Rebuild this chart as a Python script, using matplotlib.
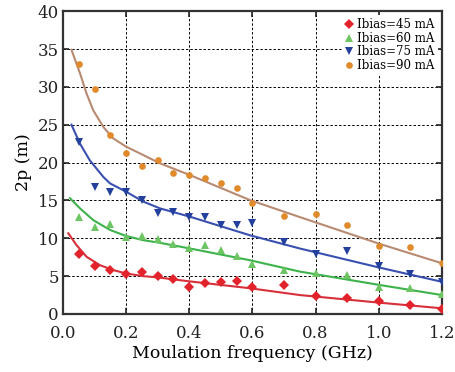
import matplotlib as mpl
mpl.use('Agg')
import matplotlib.pyplot as plt

# measured points, x in GHz, y in m
freq = [0.05, 0.1, 0.15, 0.2, 0.25, 0.3, 0.35, 0.4, 0.45, 0.5, 0.55, 0.6,
        0.7, 0.8, 0.9, 1.0, 1.1, 1.2]
p45 = [7.9, 6.3, 5.8, 5.3, 5.5, 5.05, 4.6, 3.55, 4.1, 4.2, 4.4, 3.55,
       3.8, 2.4, 2.15, 1.75, 1.15, 0.7]
p60 = [12.8, 11.5, 11.9, 10.2, 10.25, 9.85, 9.3, 8.65, 9.05, 8.5, 7.7, 6.55,
       5.85, 5.45, 5.15, 3.6, 3.4, 2.6]
p75 = [22.7, 16.8, 16.1, 16.1, 15.0, 13.3, 13.5, 12.8, 12.85, 11.75, 11.75, 12.0,
       9.55, 7.9, 8.3, 6.4, 5.3, 4.2]
p90 = [33.0, 29.7, 23.6, 21.2, 19.5, 20.3, 18.6, 18.4, 18.0, 17.3, 16.6, 14.6,
       13.0, 13.2, 11.7, 9.0, 8.8, 6.7]

# fitted curves
fit45_x = [0.017, 0.043, 0.075, 0.117, 0.159, 0.2, 0.254, 0.307, 0.402, 0.592, 0.75, 1.0, 1.2]
fit45_y = [10.65, 9.1, 7.55, 6.45, 5.8, 5.35, 5.0, 4.8, 4.3, 3.4, 2.5, 1.5, 0.75]
fit60_x = [0.022, 0.054, 0.096, 0.149, 0.2, 0.254, 0.307, 0.402, 0.592, 0.75, 1.0, 1.2]
fit60_y = [15.3, 13.95, 12.4, 11.1, 10.3, 9.75, 9.4, 8.65, 7.1, 5.6, 3.85, 2.5]
fit75_x = [0.027, 0.054, 0.085, 0.128, 0.149, 0.2, 0.254, 0.307, 0.402, 0.592, 0.75, 1.0, 1.2]
fit75_y = [25.0, 22.5, 20.3, 18.1, 17.25, 16.15, 14.85, 13.95, 12.85, 10.4, 8.65, 6.15, 4.25]
fit90_x = [0.027, 0.054, 0.075, 0.096, 0.128, 0.159, 0.2, 0.254, 0.307, 0.402, 0.592, 0.75, 1.0, 1.2]
fit90_y = [34.9, 31.8, 29.1, 26.9, 24.7, 23.2, 22.1, 21.0, 19.9, 18.35, 15.05, 12.8, 9.3, 6.7]

labels = ["Ibias=45 mA", "Ibias=60 mA", "Ibias=75 mA", "Ibias=90 mA"]

SERIES = [
    (p45, fit45_x, fit45_y, 'D', '#e3232c', '#d8303a', 4.6),
    (p60, fit60_x, fit60_y, '^', '#6cc463', '#3db34c', 6.2),
    (p75, fit75_x, fit75_y, 'v', '#22409c', '#3a50b0', 6.2),
    (p90, fit90_x, fit90_y, 'o', '#e08a2c', '#b88a72', 4.8),
]

plt.rcParams['font.family'] = ['DejaVu Serif']

fig = plt.figure(figsize=(4.56, 3.72), dpi=100)
ax = fig.add_axes([0.138, 0.156, 0.831, 0.814])

for (vals, fx, fy, mk, mc, lc, ms), lab in zip(SERIES, labels):
    ax.plot(fx, fy, color=lc, linewidth=1.5, zorder=3)
    ax.plot(freq, vals, marker=mk, color=mc, markersize=ms, markeredgewidth=0,
            linestyle='None', label=lab, zorder=4)

ax.set_xlim(0, 1.2)
ax.set_ylim(0, 40)
ax.set_xticks([0.0, 0.2, 0.4, 0.6, 0.8, 1.0, 1.2])
ax.set_yticks(range(0, 41, 5))
ax.grid(True, color='black', linestyle=(0, (2.5, 2)), linewidth=0.7)
ax.set_axisbelow(True)

ax.tick_params(direction='in', length=4, width=1.2, top=True, right=True,
               labelsize=12, colors='#222222')
ax.tick_params(axis='x', pad=8)
ax.tick_params(axis='y', pad=3)
for s in ax.spines.values():
    s.set_linewidth(1.6)
    s.set_color('#333333')

ax.set_xlabel("Moulation frequency (GHz)", fontsize=12.5, labelpad=2)
ax.set_ylabel("2p (m)", fontsize=12.5, labelpad=4)

leg = ax.legend(loc='upper right', fontsize=8.5, frameon=True, framealpha=1,
                edgecolor='none', handlelength=0.6, handletextpad=0.4,
                labelspacing=0.05, borderpad=0.3, borderaxespad=0.3)
leg.get_frame().set_linewidth(0)

plt.savefig("out.png", dpi=100)
